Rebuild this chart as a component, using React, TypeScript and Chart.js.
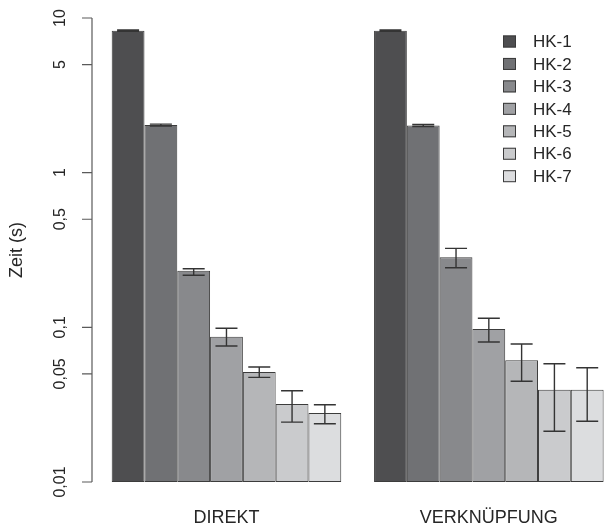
import React, { useEffect, useRef } from "react";
import { Chart, registerables } from "chart.js";

Chart.register(...registerables);

// Groups on the x axis
const categories = ["DIREKT", "VERKNÜPFUNG"];

// Series names and fill colours
const seriesNames = ["HK-1", "HK-2", "HK-3", "HK-4", "HK-5", "HK-6", "HK-7"];
const seriesColors = ["#4e4e50", "#707174", "#88898c", "#a0a1a4", "#b5b6b8", "#cacbcd", "#dcdddf"];

// Mean time in seconds per series: [DIREKT, VERKNÜPFUNG]
const hk1 = [8.28, 8.28];
const hk2 = [2.03, 2.02];
const hk3 = [0.232, 0.284];
const hk4 = [0.087, 0.0976];
const hk5 = [0.0514, 0.0612];
const hk6 = [0.0319, 0.0395];
const hk7 = [0.0279, 0.0395];

// Error bar bounds per series: [DIREKT, VERKNÜPFUNG]
const hk1Low = [8.2, 8.2];
const hk1High = [8.36, 8.36];
const hk2Low = [2.0, 1.99];
const hk2High = [2.06, 2.05];
const hk3Low = [0.217, 0.243];
const hk3High = [0.239, 0.324];
const hk4Low = [0.0757, 0.0804];
const hk4High = [0.0986, 0.1144];
const hk5Low = [0.0475, 0.0448];
const hk5High = [0.0554, 0.078];
const hk6Low = [0.0244, 0.0213];
const hk6High = [0.0389, 0.0582];
const hk7Low = [0.0238, 0.0247];
const hk7High = [0.0316, 0.0548];

// Y axis ticks
const yTicks = [0.01, 0.05, 0.1, 0.5, 1, 5, 10];
const yTickLabels = ["0,01", "0,05", "0,1", "0,5", "1", "5", "10"];
const yTitle = "Zeit (s)";

const seriesValues = [hk1, hk2, hk3, hk4, hk5, hk6, hk7];
const seriesLow = [hk1Low, hk2Low, hk3Low, hk4Low, hk5Low, hk6Low, hk7Low];
const seriesHigh = [hk1High, hk2High, hk3High, hk4High, hk5High, hk6High, hk7High];

const FONT = "'Liberation Sans', Arial, sans-serif";
const TEXT = "#262626";
const AXIS = "#5a5a5a";

const errorBarPlugin = {
  id: "errorBars",
  afterDatasetsDraw(chart: any) {
    const ctx = chart.ctx;
    const y = chart.scales.y;
    ctx.save();
    ctx.strokeStyle = "#343434";
    ctx.lineWidth = 1.4;
    seriesValues.forEach((_, d) => {
      const meta = chart.getDatasetMeta(d);
      meta.data.forEach((bar: any, i: number) => {
        const x = bar.x;
        const yLo = y.getPixelForValue(seriesLow[d][i]);
        const yHi = y.getPixelForValue(seriesHigh[d][i]);
        const cap = 11;
        ctx.beginPath();
        ctx.moveTo(x, yLo);
        ctx.lineTo(x, yHi);
        ctx.moveTo(x - cap, yLo);
        ctx.lineTo(x + cap, yLo);
        ctx.moveTo(x - cap, yHi);
        ctx.lineTo(x + cap, yHi);
        ctx.stroke();
      });
    });
    ctx.restore();
  },
};

const yAxisPlugin = {
  id: "rotatedYAxis",
  afterDraw(chart: any) {
    const ctx = chart.ctx;
    const y = chart.scales.y;
    const axisX = 92;
    const top = y.getPixelForValue(yTicks[yTicks.length - 1]);
    const bottom = y.getPixelForValue(yTicks[0]);
    ctx.save();
    ctx.strokeStyle = AXIS;
    ctx.lineWidth = 1.2;
    ctx.beginPath();
    ctx.moveTo(axisX, top);
    ctx.lineTo(axisX, bottom);
    yTicks.forEach((v) => {
      const py = y.getPixelForValue(v);
      ctx.moveTo(axisX, py);
      ctx.lineTo(axisX - 10, py);
    });
    ctx.stroke();

    ctx.fillStyle = TEXT;
    ctx.font = `16px ${FONT}`;
    ctx.textAlign = "center";
    ctx.textBaseline = "middle";
    yTicks.forEach((v, i) => {
      const py = y.getPixelForValue(v);
      ctx.save();
      ctx.translate(61, py);
      ctx.rotate(-Math.PI / 2);
      ctx.fillText(yTickLabels[i], 0, 0);
      ctx.restore();
    });

    ctx.font = `18px ${FONT}`;
    ctx.save();
    ctx.translate(17, (top + bottom) / 2);
    ctx.rotate(-Math.PI / 2);
    ctx.fillText(yTitle, 0, 0);
    ctx.restore();
    ctx.restore();
  },
};

const legendPlugin = {
  id: "boxLegend",
  afterDraw(chart: any) {
    const ctx = chart.ctx;
    ctx.save();
    ctx.font = `17px ${FONT}`;
    ctx.textBaseline = "middle";
    ctx.textAlign = "left";
    seriesNames.forEach((name, i) => {
      const cy = 41.5 + i * 22.45;
      ctx.fillStyle = seriesColors[i];
      ctx.fillRect(503, cy - 6, 13, 12);
      ctx.strokeStyle = "#3a3a3a";
      ctx.lineWidth = 1;
      ctx.strokeRect(503.5, cy - 5.5, 12, 11);
      ctx.fillStyle = TEXT;
      ctx.fillText(name, 533, cy + 1);
    });
    ctx.restore();
  },
};

export default function App() {
  const canvasRef = useRef<HTMLCanvasElement | null>(null);

  useEffect(() => {
    const canvas = canvasRef.current;
    if (!canvas) return;
    const chart = new Chart(canvas, {
      type: "bar",
      data: {
        labels: categories,
        datasets: seriesNames.map((name, i) => ({
          label: name,
          data: seriesValues[i],
          backgroundColor: seriesColors[i],
          borderColor: "#3c3c3c",
          borderWidth: 1,
          borderSkipped: false,
          categoryPercentage: 0.875,
          barPercentage: 1,
        })),
      },
      options: {
        animation: false,
        responsive: false,
        devicePixelRatio: 1,
        layout: { padding: { left: 95.3, top: 18, right: 20, bottom: 0 } },
        plugins: {
          legend: { display: false },
          tooltip: { enabled: false },
        },
        scales: {
          x: {
            type: "category",
            grid: { display: false },
            border: { display: false },
            ticks: {
              color: TEXT,
              font: { family: FONT, size: 18 },
              padding: 17,
              maxRotation: 0,
            },
            afterFit: (scale: any) => {
              scale.height = 45;
            },
          },
          y: {
            type: "logarithmic",
            display: false,
            min: 0.01,
            max: 10,
          },
        },
      },
      plugins: [errorBarPlugin, yAxisPlugin, legendPlugin],
    });
    return () => chart.destroy();
  }, []);

  return (
    <div
      style={{
        position: "fixed",
        left: 0,
        top: 0,
        width: 604,
        height: 527,
        overflow: "hidden",
        background: "#ffffff",
      }}
    >
      <canvas ref={canvasRef} width={640} height={527} style={{ display: "block" }} />
    </div>
  );
}
